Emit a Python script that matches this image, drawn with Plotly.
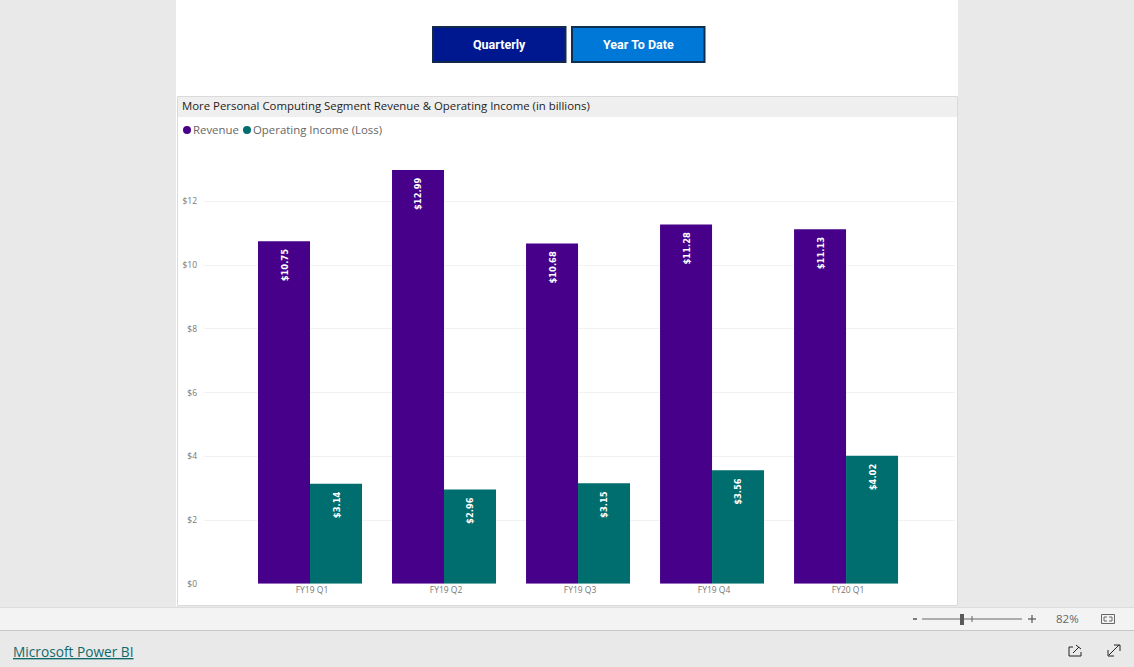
import plotly.graph_objects as go

# ---- data ----
categories = ["FY19 Q1", "FY19 Q2", "FY19 Q3", "FY19 Q4", "FY20 Q1"]
revenue = [10.75, 12.99, 10.68, 11.28, 11.13]
operating_income = [3.14, 2.96, 3.15, 3.56, 4.02]
y_ticks = [0, 2, 4, 6, 8, 10, 12]
y_tick_labels = ["$0", "$2", "$4", "$6", "$8", "$10", "$12"]
series_names = ["Revenue", "Operating Income (Loss)"]
title_text = "More Personal Computing Segment Revenue & Operating Income (in billions)"

PURPLE = "#470089"
TEAL = "#006E6E"
W, H = 1134, 667
FONT = "Open Sans"


def px(x):
    return x / W


def py(y):
    return 1 - y / H


def rect(x0, y0, x1, y1, fill, line=None, lw=0):
    return dict(type="rect", xref="paper", yref="paper", layer="below",
                x0=px(x0), x1=px(x1), y0=py(y0), y1=py(y1), fillcolor=fill,
                line=dict(color=line or fill, width=lw))


def seg(x0, y0, x1, y1, color, lw=1):
    return dict(type="line", xref="paper", yref="paper", layer="below",
                x0=px(x0), x1=px(x1), y0=py(y0), y1=py(y1),
                line=dict(color=color, width=lw))


def label(x, y, text, size, color, anchor="left", family=FONT):
    return dict(xref="paper", yref="paper", x=px(x), y=py(y), text=text, showarrow=False,
                xanchor=anchor, yanchor="middle", align=anchor, borderpad=0, borderwidth=0,
                font=dict(family=family, size=size, color=color))


fig = go.Figure()
idx = list(range(len(categories)))
fig.add_bar(x=idx, y=revenue, name=series_names[0], marker=dict(color=PURPLE, line_width=0))
fig.add_bar(x=idx, y=operating_income, name=series_names[1], marker=dict(color=TEAL, line_width=0))

shapes = [
    rect(176, 0, 958, 606, "#FFFFFF"),
    rect(177.5, 96.5, 957.5, 605.5, "#FFFFFF", "#DADADA", 1),
    rect(178, 97, 957, 117, "#EFEFEF"),
    rect(0, 607, W, 630, "#F3F3F3"),
    seg(0, 607.5, W, 607.5, "#DDDDDD"),
    seg(0, 630.5, W, 630.5, "#C8C8C8"),
    # buttons
    rect(433, 27, 565.5, 62, "#00188F", "#13294B", 2),
    rect(572, 27, 704.5, 62, "#0078D7", "#0F2F50", 2),
    # legend dots
    dict(type="circle", xref="paper", yref="paper", layer="below", fillcolor=PURPLE, line_width=0,
         x0=px(183), x1=px(191), y0=py(126), y1=py(134)),
    dict(type="circle", xref="paper", yref="paper", layer="below", fillcolor=TEAL, line_width=0,
         x0=px(243), x1=px(251), y0=py(126), y1=py(134)),
    # zoom bar
    seg(913, 619, 917, 619, "#555555", 1.5),
    seg(922, 619, 1022, 619, "#666666", 1),
    rect(960, 614, 964, 625, "#5A5A5A"),
    seg(972, 616, 972, 622, "#666666", 1),
    seg(1028, 619, 1036, 619, "#555555", 1.2),
    seg(1032, 615, 1032, 623, "#555555", 1.2),
    rect(1101.5, 614.5, 1114.5, 623.5, "#F3F3F3", "#666666", 1),
    seg(1104, 619, 1104, 617, "#666666", 1), seg(1104, 617, 1107, 617, "#666666", 1),
    seg(1109, 617, 1112, 617, "#666666", 1), seg(1112, 617, 1112, 619, "#666666", 1),
    seg(1104, 619, 1104, 621, "#666666", 1), seg(1104, 621, 1107, 621, "#666666", 1),
    seg(1109, 621, 1112, 621, "#666666", 1), seg(1112, 621, 1112, 619, "#666666", 1),
    # expand icon
    seg(1109, 655, 1119, 645, "#222222", 1),
    seg(1114, 645, 1120, 645, "#222222", 1),
    seg(1120, 645, 1120, 651, "#222222", 1),
    seg(1108, 650, 1108, 656, "#222222", 1),
    seg(1108, 656, 1114, 656, "#222222", 1),
    # share icon
    seg(1069, 647, 1069, 656, "#222222", 1),
    seg(1069, 656, 1081, 656, "#222222", 1),
    seg(1081, 656, 1081, 652, "#222222", 1),
    seg(1069, 647, 1073, 647, "#222222", 1),
    seg(1073, 653, 1079, 647, "#222222", 1),
    seg(1076, 645, 1081, 649, "#222222", 1),
]

annotations = [
    label(182, 105, title_text, 11.4, "#252423"),
    label(193, 129, series_names[0], 11.4, "#666666"),
    label(253, 129, series_names[1], 11.4, "#666666"),
    label(499.5, 44.5, "<b>Quarterly</b>", 12.5, "#FFFFFF", "center", "Roboto"),
    label(638, 44.5, "<b>Year To Date</b>", 12.5, "#FFFFFF", "center", "Roboto"),
    label(1067, 618, "82%", 11.5, "#666666", "center"),
    label(13, 651, "<u>Microsoft Power BI</u>", 13.7, "#0F6B6B"),
]

LABEL_FONT = dict(family="DejaVu Sans Condensed", size=9.3, color="#FFFFFF", weight="bold")
for values, shift in ((revenue, -26), (operating_income, 26)):
    for i, v in zip(idx, values):
        annotations.append(dict(
            x=i, y=v, xref="x", yref="y", text=f"${v:.2f}", showarrow=False, textangle=-90,
            xshift=shift, yshift=-7, xanchor="center", yanchor="top", borderpad=0, font=LABEL_FONT))

fig.update_layout(
    width=W, height=H, margin=dict(l=0, r=0, t=0, b=0, autoexpand=False), autosize=False,
    paper_bgcolor="#E9E9E9", plot_bgcolor="rgba(0,0,0,0)",
    barmode="group", bargap=0.224, bargroupgap=0, showlegend=False,
    shapes=shapes, annotations=annotations,
    font=dict(family=FONT),
    xaxis=dict(domain=[px(204), px(955)], range=[-0.791, 4.813], tickmode="array",
               tickvals=idx, ticktext=categories, showgrid=False, zeroline=False, showline=False,
               ticks="", tickfont=dict(size=8.5, color="#777777"), fixedrange=True,
               ticklabelshift=2),
    yaxis=dict(domain=[py(583.7), py(140)], range=[0, 13.93], tickmode="array",
               tickvals=y_ticks, ticktext=y_tick_labels, gridcolor="#F2F2F2", gridwidth=1,
               zeroline=False, showline=False, ticks="",
               tickfont=dict(size=8.5, color="#777777"), fixedrange=True,
               ticklabelstandoff=6),
)

fig.write_html("out.html", config=dict(displayModeBar=False),
               post_script="document.body.style.margin='0';document.body.style.overflow='hidden';")
